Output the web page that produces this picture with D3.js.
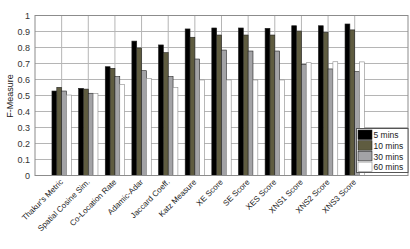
<!DOCTYPE html>
<html>
<head>
<meta charset="utf-8">
<script src="https://cdn.jsdelivr.net/npm/d3@7"></script>
<style>
  body { margin: 0; background: #fff; }
  svg { display: block; font-family: "Liberation Sans", Arial, sans-serif; }
</style>
</head>
<body>
<div id="chart"></div>
<script>
// DATA
const categories = ["Thakur's Metric", "Spatial Cosine Sim.", "Co-Location Rate", "Adamic-Adar",
  "Jaccard Coeff.", "Katz Measure", "XE Score", "SE Score", "XES Score", "XNS1 Score", "XNS2 Score", "XNS3 Score"];
const seriesNames = ["5 mins", "10 mins", "30 mins", "60 mins"];
const mins5  = [0.528, 0.545, 0.68, 0.84, 0.816, 0.916, 0.922, 0.922, 0.92, 0.936, 0.936, 0.947];
const mins10 = [0.551, 0.54, 0.67, 0.797, 0.768, 0.864, 0.878, 0.878, 0.878, 0.903, 0.895, 0.91];
const mins30 = [0.528, 0.514, 0.618, 0.655, 0.618, 0.728, 0.784, 0.778, 0.778, 0.695, 0.666, 0.649];
const mins60 = [0.503, 0.512, 0.57, 0.607, 0.551, 0.597, 0.597, 0.597, 0.597, 0.705, 0.711, 0.71];
const yTicks = [0, 0.1, 0.2, 0.3, 0.4, 0.5, 0.6, 0.7, 0.8, 0.9, 1];
const colors = ["#000000", "#5f5c40", "#a3a3a6", "#ffffff"];

const series = [mins5, mins10, mins30, mins60];

const width = 410, height = 249;
const margin = {top: 15.5, right: 2, bottom: 73.5, left: 35};

// SCALES
const xScale = d3.scaleLinear()
  .domain([0, 14])
  .range([margin.left, width - margin.right]);

const yScale = d3.scaleLinear()
  .domain([0, 1])
  .range([height - margin.bottom, margin.top]);

const groupWidth = 0.727;          // in category units
const barW = groupWidth / 4;

const svg = d3.select('#chart')
  .append("svg")
  .attr("width", width)
  .attr("height", height);

// GRID
svg.append("g")
  .selectAll("line.h")
  .data(yTicks)
  .join("line")
  .attr("x1", margin.left)
  .attr("x2", width - margin.right)
  .attr("y1", d => yScale(d))
  .attr("y2", d => yScale(d))
  .attr("stroke", "#b5b5b5")
  .attr("stroke-width", 1);

svg.append("g")
  .selectAll("line.v")
  .data(categories)
  .join("line")
  .attr("x1", (d, i) => xScale(i + 1))
  .attr("x2", (d, i) => xScale(i + 1))
  .attr("y1", yScale(1))
  .attr("y2", yScale(0))
  .attr("stroke", "#b5b5b5")
  .attr("stroke-width", 1);

// BARS
series.forEach((vals, s) => {
  svg.append("g")
    .selectAll("rect")
    .data(vals)
    .join("rect")
    .attr("x", (d, i) => xScale(i + 1 + (s - 2) * barW))
    .attr("width", xScale(barW) - xScale(0))
    .attr("y", d => yScale(d))
    .attr("height", d => yScale(0) - yScale(d))
    .attr("fill", colors[s])
    .attr("stroke", s === 3 ? "#8a8a8a" : "#222")
    .attr("stroke-width", 0.6);
});

// AXES BOX
svg.append("rect")
  .attr("x", margin.left)
  .attr("y", margin.top)
  .attr("width", width - margin.right - margin.left)
  .attr("height", yScale(0) - yScale(1))
  .attr("fill", "none")
  .attr("stroke", "#8c8c8c")
  .attr("stroke-width", 1);

// Y AXIS
const yAxis = d3.axisLeft(yScale)
  .tickValues(yTicks)
  .tickFormat(d => d3.format("")(d))
  .tickSize(0)
  .tickPadding(4);

const yAxisGroup = svg.append("g")
  .attr("transform", `translate(${margin.left - 1}, 0)`)
  .call(yAxis);
yAxisGroup.select(".domain").remove();
yAxisGroup.selectAll("text")
  .style("font-size", "9px")
  .attr("fill", "#333");

// X LABELS (rotated)
svg.append("g")
  .selectAll("text")
  .data(categories)
  .join("text")
  .attr("transform", (d, i) => `translate(${xScale(i + 1) + 2}, ${yScale(0) + 7}) rotate(-45)`)
  .attr("text-anchor", "end")
  .style("font-size", "8px")
  .attr("fill", "#222")
  .text(d => d);

// Y TITLE
svg.append("text")
  .attr("transform", `translate(13, ${96}) rotate(-90)`)
  .attr("text-anchor", "middle")
  .style("font-size", "9px")
  .attr("fill", "#222")
  .text("F-Measure");

// LEGEND
const legend = svg.append("g").attr("transform", "translate(356.5, 128.5)");
legend.append("rect")
  .attr("width", 51.5)
  .attr("height", 44)
  .attr("fill", "#fff")
  .attr("stroke", "#555")
  .attr("stroke-width", 1);

seriesNames.forEach((name, i) => {
  const g = legend.append("g").attr("transform", `translate(1.5, ${1.5 + i * 10.7})`);
  g.append("rect")
    .attr("width", 14)
    .attr("height", 9.5)
    .attr("fill", colors[i])
    .attr("stroke", i === 3 ? "#8a8a8a" : "#222")
    .attr("stroke-width", 0.6);
  g.append("text")
    .attr("x", 15.5)
    .attr("y", 8.3)
    .style("font-size", "8.5px")
    .attr("fill", "#222")
    .text(name);
});
</script>
</body>
</html>
